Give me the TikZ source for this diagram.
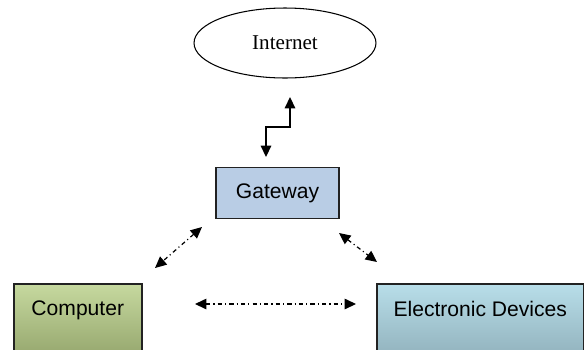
\documentclass[tikz,border=0pt]{standalone}
\usepackage{fontspec}
\setmainfont{Liberation Sans}
\newfontfamily\netfont{Liberation Serif}
\usepackage{tikz}
\usetikzlibrary{shapes.geometric}
\usetikzlibrary{arrows.meta}
\definecolor{gwblue}{HTML}{B9CDE5}
\definecolor{pctop}{HTML}{C6D99F}
\definecolor{pcbot}{HTML}{93A46B}
\definecolor{devtop}{HTML}{B8DEE9}
\definecolor{devbot}{HTML}{8FAFBA}
\definecolor{edge}{HTML}{222222}

\begin{document}
\begin{tikzpicture}[x = .02cm, y = -.02cm,
  box/.style = {draw = edge, line width = .9pt, inner sep = 0pt,
                font = \fontsize{12}{14}\selectfont},
  link/.style = {line width = .7pt, {Triangle[length=6.5pt, width=6pt]}-{Triangle[length=6.5pt, width=6pt]}},
  dotdash/.style = {dash pattern = on 2.4pt off 1.8pt on .6pt off 1.8pt}]
\clip (0, 0) rectangle (584, 349);
\node[draw, ellipse, line width = .6pt, minimum width = 3.64cm, minimum height = 1.4cm,
      font = \netfont\fontsize{12}{14}\selectfont] (net) at (285, 43) {Internet};
\node[box, fill = gwblue, minimum width = 2.46cm, minimum height = 1.02cm] (gw) at (277.5, 193) {Gateway};
\node[box, anchor = north west, top color = pctop, bottom color = pcbot,
      minimum width = 2.56cm, text height = .64cm, text depth = .9cm] (pc) at (13, 283) {Computer};
\node[box, anchor = north west, top color = devtop, bottom color = devbot,
      minimum width = 4.14cm, text height = .66cm, text depth = .9cm] (dev) at (376, 283) {Electronic Devices};
% arrow ends
\coordinate (netIn) at (290, 97);
\coordinate (gwIn) at (266, 157);
\coordinate (gwL) at (202, 227);
\coordinate (pcUp) at (155, 268);
\coordinate (gwR) at (339, 233);
\coordinate (devUp) at (377, 262);
\coordinate (pcR) at (195, 304);
\coordinate (devL) at (356, 304);
\draw[link, line width = .9pt] (netIn) -- ++(0, 30) -| (gwIn);
\draw[link, dotdash] (gwL) -- (pcUp);
\draw[link, dotdash] (gwR) -- (devUp);
\draw[link, dotdash] (pcR) -- (devL);
\end{tikzpicture}
\end{document}
